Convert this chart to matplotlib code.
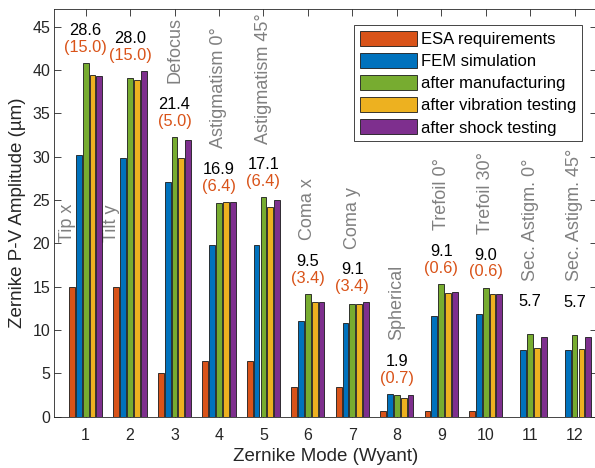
import numpy as np
import matplotlib
matplotlib.use('Agg')
import matplotlib.pyplot as plt

plt.rcParams['font.family'] = ['Liberation Sans', 'DejaVu Sans']

modes = np.arange(1, 13)
mode_names = ['Tip x', 'Tilt y', 'Defocus', 'Astigmatism 0°', 'Astigmatism 45°',
              'Coma x', 'Coma y', 'Spherical', 'Trefoil 0°', 'Trefoil 30°',
              'Sec. Astigm. 0°', 'Sec. Astigm. 45°']

esa_req = [15.0, 15.0, 5.0, 6.4, 6.4, 3.4, 3.4, 0.7, 0.6, 0.6, np.nan, np.nan]
fem_sim = [30.2, 29.9, 27.1, 19.8, 19.8, 11.0, 10.8, 2.65, 11.65, 11.8, 7.65, 7.7]
after_manuf = [40.8, 39.1, 32.3, 24.6, 25.3, 14.2, 13.0, 2.5, 15.3, 14.9, 9.5, 9.4]
after_vib = [39.4, 38.9, 29.8, 24.8, 24.2, 13.2, 13.0, 2.1, 14.3, 14.1, 7.95, 7.8]
after_shock = [39.3, 39.9, 31.9, 24.8, 24.95, 13.2, 13.2, 2.45, 14.4, 14.1, 9.15, 9.2]

# numbers written above each group
top_vals = ['28.6', '28.0', '21.4', '16.9', '17.1', '9.5', '9.1', '1.9', '9.1', '9.0', '5.7', '5.7']
req_vals = ['(15.0)', '(15.0)', '(5.0)', '(6.4)', '(6.4)', '(3.4)', '(3.4)', '(0.7)', '(0.6)', '(0.6)', '', '']

series = [esa_req, fem_sim, after_manuf, after_vib, after_shock]
labels = ['ESA requirements', 'FEM simulation', 'after manufacturing',
          'after vibration testing', 'after shock testing']
colors = ['#D95319', '#0072BD', '#77AC30', '#EDB120', '#7E2F8E']

fig = plt.figure(figsize=(5.95, 4.68), dpi=100)
ax = fig.add_axes([54.5/595, 1-416.7/468, 542.3/595, 407.4/468])

step = 0.154
width = 0.13
for i, (vals, lab, c) in enumerate(zip(series, labels, colors)):
    ax.bar(modes + (i-2)*step, vals, width, color=c, edgecolor='#1a1a1a', linewidth=0.6, label=lab, zorder=2)

gmax = np.nanmax(np.array(series[1:]), axis=0)
for k in range(12):
    ax.text(modes[k], gmax[k]+3.75, top_vals[k], ha='center', va='center', fontsize=11.8, color='black')
    if req_vals[k]:
        ax.text(modes[k], gmax[k]+1.8, req_vals[k], ha='center', va='center', fontsize=11.8, color='#D95319')
    if k < 2:
        ax.text(modes[k]-0.41, 20.1, mode_names[k], rotation=90, ha='center', va='bottom', fontsize=13, color='#808080', zorder=1)
    else:
        ax.text(modes[k], gmax[k]+6.2, mode_names[k], rotation=90, ha='center', va='bottom', fontsize=13, color='#808080')

ax.set_xlim(0.3, 12.5)
ax.set_ylim(0, 47)
ax.set_xticks(modes)
ax.set_yticks(np.arange(0, 46, 5))
ax.tick_params(direction='in', top=True, right=True, length=5, width=0.6, labelsize=11.5, colors='#262626')
ax.tick_params(axis='x', pad=8)
ax.tick_params(axis='y', pad=3)
for s in ax.spines.values():
    s.set_color('#262626')
    s.set_linewidth(0.6)
ax.set_xlabel('Zernike Mode (Wyant)', fontsize=13.5, color='#262626', labelpad=4)
ax.set_ylabel('Zernike P-V Amplitude (µm)', fontsize=13.5, color='#262626', labelpad=5)

leg = ax.legend(loc='upper right', bbox_to_anchor=(0.973, 0.9615), fontsize=12, fancybox=False,
                framealpha=1, edgecolor='#262626', handlelength=3.4, handleheight=1.0,
                handletextpad=0.25, labelspacing=0.36, borderpad=0.35, borderaxespad=0)
leg.get_frame().set_linewidth(0.6)

plt.savefig('out.png', dpi=100)
